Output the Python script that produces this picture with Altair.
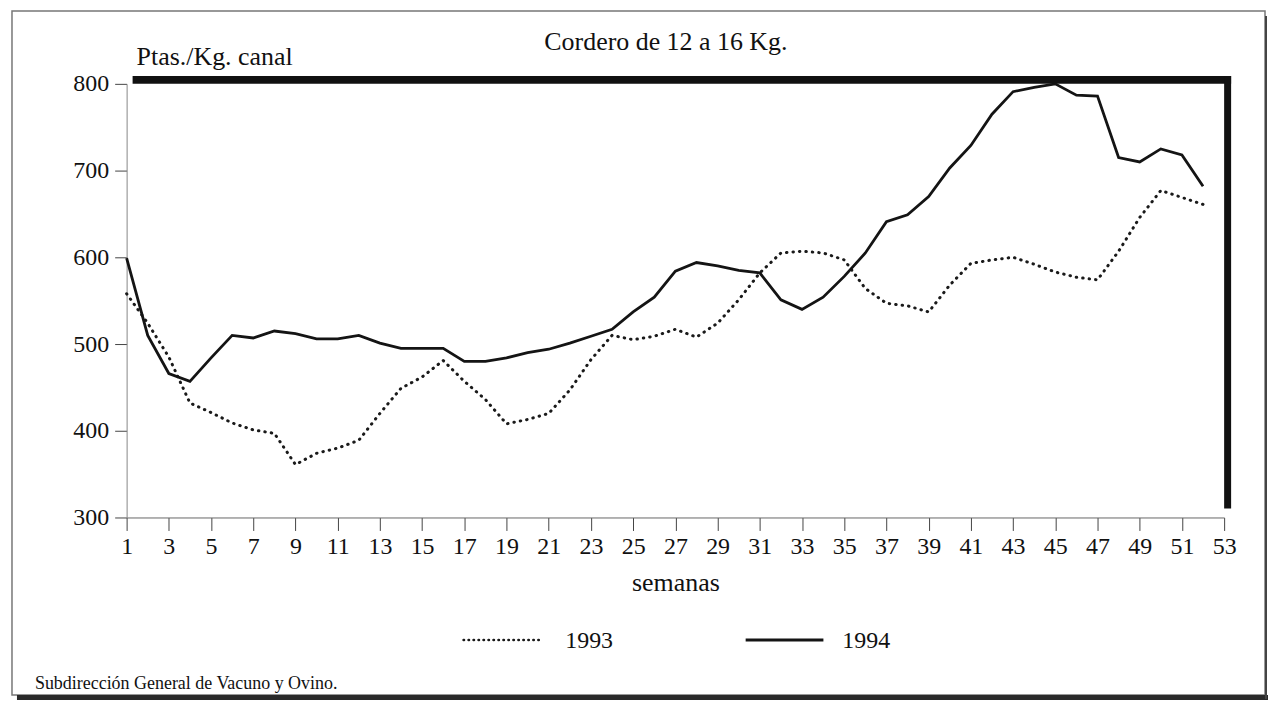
import altair as alt
import pandas as pd

weeks = list(range(1, 53))
y1993 = [558, 524, 485, 432, 421, 409, 401, 397, 361, 374, 380, 389, 420, 449, 462, 481,
         457, 436, 408, 413, 420, 447, 482, 510, 505, 509, 517, 508, 524, 551, 582, 605,
         607, 605, 597, 564, 547, 544, 537, 568, 593, 597, 600, 592, 583, 577, 574, 607,
         646, 677, 669, 661]
y1994 = [599, 510, 466, 457, 484, 510, 507, 515, 512, 506, 506, 510, 501, 495, 495, 495,
         480, 480, 484, 490, 494, 501, 509, 517, 537, 554, 584, 594, 590, 585, 582, 551,
         540, 554, 578, 605, 641, 649, 670, 703, 729, 765, 791, 796, 800, 787, 786, 715,
         710, 725, 718, 682]
x_ticks = list(range(1, 54))
y_ticks = [300, 400, 500, 600, 700, 800]

title_text = "Cordero de 12 a 16 Kg."
unit_text = "Ptas./Kg. canal"
x_title = "semanas"
source_text = "Subdirección General de Vacuno y Ovino."
series_names = ["1993", "1994"]

FONT = "Liberation Serif"
W, H = 1101, 435

df93 = pd.DataFrame({"semana": weeks, "valor": y1993})
df94 = pd.DataFrame({"semana": weeks, "valor": y1994})

xs = alt.Scale(domain=[1, 53], nice=False, zero=False)
ys = alt.Scale(domain=[300, 800], nice=False, zero=False)

x_axis = alt.Axis(
    values=x_ticks, title=None, grid=False,
    labelExpr="datum.value % 2 == 1 ? datum.label : ''",
    tickSize={"condition": {"test": "datum.value % 2 == 1", "value": 13}, "value": 7},
    tickColor="#444", domainColor="#666", domainWidth=1, tickWidth=1,
    labelFont=FONT, labelFontSize=24, labelColor="#111", labelPadding=4,
    labelAngle=0, labelFlush=False, labelOverlap=False,
)
y_axis = alt.Axis(
    values=y_ticks, title=None, grid=False, tickSize=12,
    tickColor="#444", domainColor="#888", domainWidth=1, tickWidth=1,
    labelFont=FONT, labelFontSize=24, labelColor="#111", labelPadding=6,
)

line93 = alt.Chart(df93).mark_line(
    color="#1a1a1a", strokeWidth=3, strokeDash=[0.5, 6], strokeCap="round"
).encode(
    x=alt.X("semana:Q", scale=xs, axis=x_axis),
    y=alt.Y("valor:Q", scale=ys, axis=y_axis),
)
line94 = alt.Chart(df94).mark_line(color="#141414", strokeWidth=2.8).encode(
    x=alt.X("semana:Q", scale=xs),
    y=alt.Y("valor:Q", scale=ys),
)

base = alt.Chart(pd.DataFrame({"a": [0]}))

# decorative box
top_bar = base.mark_rule(color="#111", strokeWidth=8).encode(
    x=alt.value(6), x2=alt.value(1108), y=alt.value(-4))
right_bar = base.mark_rule(color="#111", strokeWidth=7).encode(
    x=alt.value(1104.5), y=alt.value(-8), y2=alt.value(426))

frame = base.mark_rect(fill=None, stroke="#777", strokeWidth=1.5).encode(
    x=alt.value(-115), x2=alt.value(1142), y=alt.value(-73), y2=alt.value(613))
shadow_b = base.mark_rule(color="#2a2a2a", strokeWidth=5).encode(
    x=alt.value(-110), x2=alt.value(1145), y=alt.value(615.5))
shadow_r = base.mark_rule(color="#444", strokeWidth=2).encode(
    x=alt.value(1143), y=alt.value(-68), y2=alt.value(617))

title = base.mark_text(font=FONT, fontSize=26, color="#111", align="center",
                       baseline="alphabetic").encode(
    x=alt.value(541), y=alt.value(-34), text=alt.value(title_text))
unit = base.mark_text(font=FONT, fontSize=26, color="#111", align="left",
                      baseline="alphabetic").encode(
    x=alt.value(10), y=alt.value(-19), text=alt.value(unit_text))
xtitle = base.mark_text(font=FONT, fontSize=26, color="#111", align="center",
                        baseline="alphabetic").encode(
    x=alt.value(551), y=alt.value(509), text=alt.value(x_title))
source = base.mark_text(font=FONT, fontSize=18, color="#111", align="left",
                        baseline="alphabetic").encode(
    x=alt.value(-92), y=alt.value(607), text=alt.value(source_text))

leg_dot = base.mark_rule(color="#1a1a1a", strokeWidth=2.5, strokeDash=[0.5, 4.5],
                         strokeCap="round").encode(
    x=alt.value(338), x2=alt.value(418), y=alt.value(558))
leg_dot_t = base.mark_text(font=FONT, fontSize=24, color="#111", align="left",
                           baseline="middle").encode(
    x=alt.value(440), y=alt.value(559), text=alt.value(series_names[0]))
leg_sol = base.mark_rule(color="#141414", strokeWidth=3).encode(
    x=alt.value(621), x2=alt.value(699), y=alt.value(558))
leg_sol_t = base.mark_text(font=FONT, fontSize=24, color="#111", align="left",
                           baseline="middle").encode(
    x=alt.value(718), y=alt.value(559), text=alt.value(series_names[1]))

chart = alt.layer(
    frame, shadow_b, shadow_r, line93, line94, top_bar, right_bar,
    title, unit, xtitle, source, leg_dot, leg_dot_t, leg_sol, leg_sol_t,
).properties(
    width=W, height=H,
    autosize=alt.AutoSizeParams(type="none"),
    padding={"left": 119, "top": 75, "right": 44, "bottom": 183},
    background="white",
).configure_view(stroke=None)

chart.save("out.html", embed_options={"renderer": "svg", "actions": False})
